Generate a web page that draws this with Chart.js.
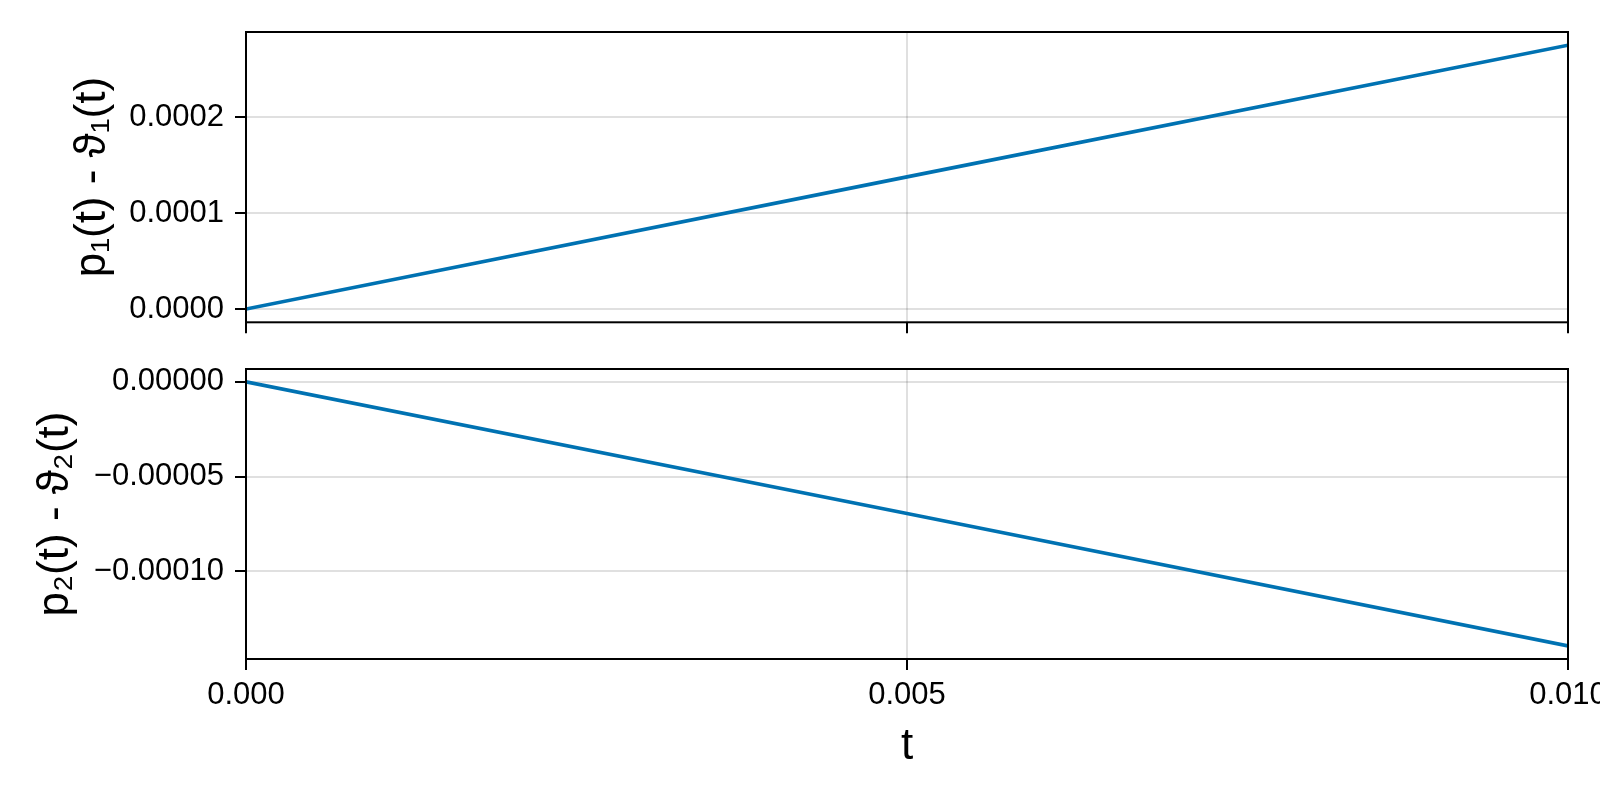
<!DOCTYPE html>
<html>
<head>
<meta charset="utf-8">
<script src="https://cdn.jsdelivr.net/npm/chart.js@4"></script>
<style>
  html, body { margin: 0; padding: 0; background: #fff; }
  #wrap { position: relative; width: 1600px; height: 800px; overflow: hidden; }
  canvas { position: absolute; left: 0; }
</style>
</head>
<body>
<div id="wrap">
  <canvas id="c1" width="1600" height="345" style="top:0;width:1600px;height:345px"></canvas>
  <canvas id="c2" width="1600" height="455" style="top:345px;width:1600px;height:455px"></canvas>
</div>
<script>
// ---- data ----
const tValues = [0, 0.005, 0.01];
const diff1 = [0, 0.000138, 0.0002754];
const diff2 = [0, -0.0000694, -0.0001393];

const xTicks = [0, 0.005, 0.01];
const xTickLabels = ['0.000', '0.005', '0.010'];
const y1Ticks = [0, 0.0001, 0.0002];
const y1TickLabels = ['0.0000', '0.0001', '0.0002'];
const y2Ticks = [-0.0001, -0.00005, 0];
const y2TickLabels = ['\u22120.00010', '\u22120.00005', '0.00000'];

const xLimits = [0, 0.01];
const y1Limits = [-0.0000138, 0.0002892];
const y2Limits = [-0.0001462, 0.0000068];

const y1Title = 'p\u2081(t) - \u03D1\u2081(t)';
const y2Title = 'p\u2082(t) - \u03D1\u2082(t)';
const xTitle = 't';

// ---- styling ----
const LINE_COLOR = '#0072B2';
const GRID_COLOR = 'rgba(0,0,0,0.12)';
const FONT = 'Liberation Sans, Arial, Helvetica, sans-serif';
const PLOT_LEFT = 246;
const TICK_SIZE = 31;
const TITLE_SIZE = 44;

const framePlugin = {
  id: 'frame',
  afterDraw(chart) {
    const a = chart.chartArea, ctx = chart.ctx;
    ctx.save();
    ctx.strokeStyle = '#000';
    ctx.lineWidth = 2;
    ctx.strokeRect(a.left, a.top, a.right - a.left, a.bottom - a.top);
    ctx.restore();
  }
};

function gridOpts() {
  return { color: GRID_COLOR, lineWidth: 2, tickColor: '#000', tickWidth: 2, tickLength: 11, drawTicks: true };
}

function makeChart(id, values, yLim, yT, yL, yTitle, yTitlePad, padTop, showX, xHeight) {
  const pts = tValues.map((t, i) => ({ x: t, y: values[i] }));
  return new Chart(document.getElementById(id), {
    type: 'line',
    data: { datasets: [{ data: pts, borderColor: LINE_COLOR, borderWidth: 3.6, pointRadius: 0, tension: 0, fill: false }] },
    plugins: [framePlugin],
    options: {
      responsive: false,
      animation: false,
      devicePixelRatio: 1,
      layout: { padding: { left: 0, right: 32, top: padTop, bottom: 0 } },
      plugins: { legend: { display: false }, tooltip: { enabled: false } },
      scales: {
        x: {
          type: 'linear', min: xLimits[0], max: xLimits[1],
          border: { display: false },
          grid: gridOpts(),
          afterBuildTicks: s => { s.ticks = xTicks.map(v => ({ value: v })); },
          ticks: {
            display: showX, padding: 7, maxRotation: 0, autoSkip: false,
            color: '#000', font: { family: FONT, size: TICK_SIZE },
            callback: (v, i) => xTickLabels[i]
          },
          title: {
            display: showX, text: xTitle, color: '#000',
            font: { family: FONT, size: TITLE_SIZE }, padding: { top: 0, bottom: 27 }
          },
          afterFit: s => { s.height = xHeight; s.paddingLeft = 0; s.paddingRight = 0; }
        },
        y: {
          type: 'linear', min: yLim[0], max: yLim[1],
          border: { display: false },
          grid: gridOpts(),
          afterBuildTicks: s => { s.ticks = yT.map(v => ({ value: v })); },
          ticks: {
            padding: 11, color: '#000', font: { family: FONT, size: TICK_SIZE },
            callback: (v, i) => yL[i]
          },
          title: {
            display: true, text: yTitle, color: '#000',
            font: { family: FONT, size: TITLE_SIZE }, padding: { top: yTitlePad, bottom: 0 }
          },
          afterFit: s => { s.width = PLOT_LEFT; s.paddingTop = 0; s.paddingBottom = 0; }
        }
      }
    }
  });
}

makeChart('c1', diff1, y1Limits, y1Ticks, y1TickLabels, y1Title, 66, 32, false, 22.7);
makeChart('c2', diff2, y2Limits, y2Ticks, y2TickLabels, y2Title, 29, 24, true, 141);
</script>
</body>
</html>
